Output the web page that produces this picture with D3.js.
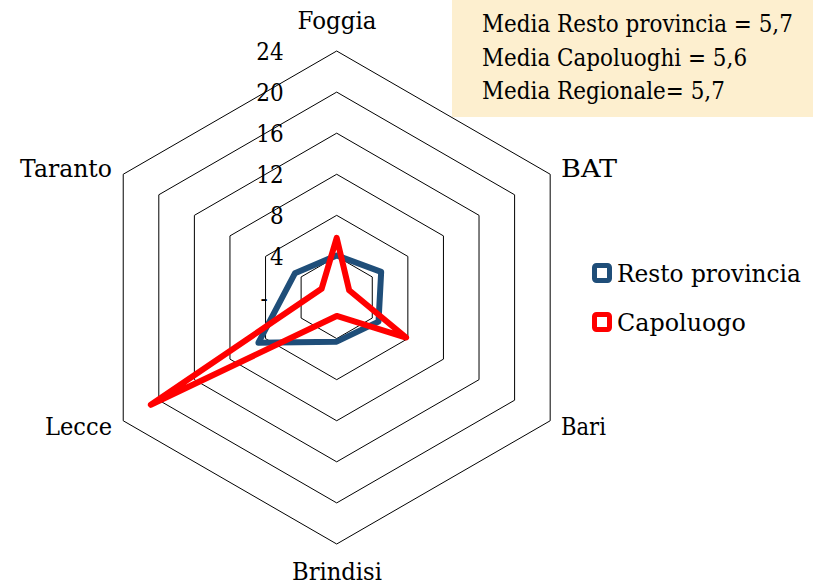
<!DOCTYPE html>
<html>
<head>
<meta charset="utf-8">
<script src="https://cdn.jsdelivr.net/npm/d3@7"></script>
<style>
  html, body { margin: 0; padding: 0; background: #ffffff; }
  svg { display: block; }
</style>
</head>
<body>
<svg id="chart" width="829" height="586"></svg>
<script>
// ---- data ----
const categories = ["Foggia", "BAT", "Bari", "Brindisi", "Lecce", "Taranto"];
const restoProvincia = [4.1, 5.0, 4.7, 4.3, 8.8, 4.7];
const capoluogo = [5.8, 1.4, 7.8, 1.8, 20.9, 1.7];
const tickValues = [0, 4, 8, 12, 16, 20, 24];
const tickLabels = ["-", "4", "8", "12", "16", "20", "24"];
const seriesNames = ["Resto provincia", "Capoluogo"];
const seriesColors = ["#1F4E79", "#FF0000"];
const boxLines = ["Media Resto provincia = 5,7", "Media Capoluoghi = 5,6", "Media Regionale= 5,7"];

// ---- layout ----
const FONT = "DejaVu Serif";
const FS = 25;
const svg = d3.select("#chart").attr("font-family", FONT);
const cx = 336.7, cy = 297.5, R = 246.5;
const r = d3.scaleLinear().domain([0, 24]).range([0, R]);
const angle = d3.scalePoint().domain(categories).range([0, 2 * Math.PI * (5 / 6)]);

// squeeze a text horizontally (around its anchor x) to a target width,
// since the installed serif face is wider than the reference's
function fit(sel, widthFn) {
  sel.each(function(d, i) {
    const el = d3.select(this);
    const x = +el.attr("x") || 0;
    const w = this.getComputedTextLength();
    const sx = widthFn(d, i, w) / w;
    el.attr("transform", `translate(${x},0) scale(${sx},1) translate(${-x},0)`);
  });
}

const g = svg.append("g").attr("transform", `translate(${cx},${cy})`);

// info box
const box = svg.append("g");
box.append("rect").attr("x", 452).attr("y", 0).attr("width", 361).attr("height", 117).attr("fill", "#FDEFCF");
const boxText = box.selectAll("text").data(boxLines).join("text")
  .attr("x", 482).attr("y", (d, i) => 32 + i * 33.6)
  .attr("font-size", FS).text(d => d);
const boxScale = 311 / boxText.node().getComputedTextLength();
boxText.call(fit, (d, i, w) => w * boxScale);

// grid hexagons
const ringLine = d3.lineRadial().angle(d => angle(d)).curve(d3.curveLinearClosed);
g.selectAll("path.ring").data(tickValues.filter(v => v > 0)).join("path")
  .attr("class", "ring")
  .attr("d", v => ringLine.radius(() => r(v))(categories))
  .attr("fill", "none").attr("stroke", "#000").attr("stroke-width", 1);

// tick labels
g.selectAll("text.tick").data(tickValues).join("text")
  .attr("class", "tick")
  .attr("x", d => d === 0 ? -69 : -53)
  .attr("y", d => -r(d))
  .attr("dy", "0.36em")
  .attr("text-anchor", "end")
  .attr("font-size", FS)
  .text((d, i) => tickLabels[i])
  .call(fit, (d, i, w) => w * 0.86);

// series
const seriesLine = d3.lineRadial()
  .angle((d, i) => angle(categories[i]))
  .radius(d => r(d))
  .curve(d3.curveLinearClosed);
[restoProvincia, capoluogo].forEach((vals, k) => {
  g.append("path").attr("d", seriesLine(vals))
    .attr("fill", "none").attr("stroke", seriesColors[k])
    .attr("stroke-width", 6).attr("stroke-linejoin", "round");
});

// category labels
const labelPos = {
  "Foggia":   { x: 337, y: 29,  anchor: "middle", w: 79 },
  "BAT":      { x: 561, y: 177, anchor: "start",  w: 56 },
  "Bari":     { x: 561, y: 435, anchor: "start",  w: 45 },
  "Brindisi": { x: 337, y: 580, anchor: "middle", w: 90 },
  "Lecce":    { x: 112, y: 435, anchor: "end",    w: 67 },
  "Taranto":  { x: 112, y: 177, anchor: "end",    w: 92 }
};
svg.selectAll("text.cat").data(categories).join("text")
  .attr("class", "cat")
  .attr("x", d => labelPos[d].x).attr("y", d => labelPos[d].y)
  .attr("text-anchor", d => labelPos[d].anchor)
  .attr("font-size", FS).text(d => d)
  .call(fit, d => labelPos[d].w);

// legend
const legendWidths = [184, 129];
const leg = svg.append("g");
leg.selectAll("rect").data(seriesNames).join("rect")
  .attr("x", 594.5).attr("y", (d, i) => 265.5 + i * 49).attr("width", 15).attr("height", 15)
  .attr("rx", 2).attr("fill", "#fff").attr("stroke", (d, i) => seriesColors[i]).attr("stroke-width", 5);
leg.selectAll("text").data(seriesNames).join("text")
  .attr("x", 617).attr("y", (d, i) => 282 + i * 49).attr("font-size", FS).text(d => d)
  .call(fit, (d, i) => legendWidths[i]);
</script>
</body>
</html>
